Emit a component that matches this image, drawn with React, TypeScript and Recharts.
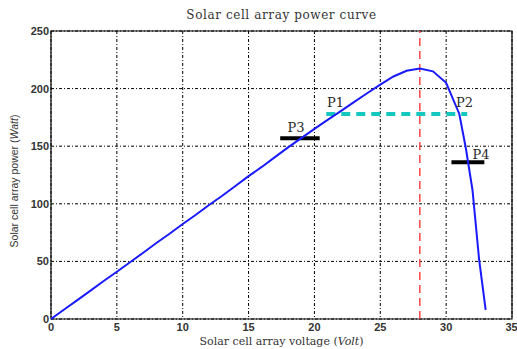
import React from 'react';
import { LineChart, Line, XAxis, YAxis, CartesianGrid, ReferenceLine, ReferenceArea, ReferenceDot } from 'recharts';

const voltage = [0, 1, 2, 3, 4, 5, 6, 7, 8, 9, 10, 11, 12, 13, 14, 15, 16, 17, 18, 19, 20, 21, 22, 23, 24, 25, 26, 27, 28, 29, 30, 31, 31.5, 32, 32.5, 33];
const power = [0, 8.2, 16.4, 24.6, 33, 41, 49.3, 57.5, 66, 74, 82.5, 90.5, 99, 107, 115.5, 124, 132, 140.5, 149, 157, 165, 172.8, 180.5, 188.2, 196, 203.5, 210.5, 215.5, 217.5, 215, 205, 178, 148, 112, 52, 8];

const xTicks = [0, 5, 10, 15, 20, 25, 30, 35];
const yTicks = [0, 50, 100, 150, 200, 250];

const mppVoltage = 28;
const p1p2Level = 178;
const p1p2Range = [20.9, 31.6];
const p3Level = 157;
const p3Range = [17.4, 20.4];
const p4Level = 136;
const p4Range = [30.4, 32.9];

const pointLabels = [
  { name: 'P1', x: 21.6, y: 188 },
  { name: 'P2', x: 31.4, y: 188 },
  { name: 'P3', x: 18.6, y: 166 },
  { name: 'P4', x: 32.65, y: 143 },
];

const data = voltage.map((v, i) => ({ v, p: power[i] }));

const serif = '"DejaVu Serif", "Liberation Serif", serif';
const tickStyle = { fontSize: 11, fill: '#333', fontFamily: 'Liberation Sans', fontWeight: 'bold' };

const App: React.FC = () => {
  return (
    <div style={{ position: 'absolute', left: 0, top: 0, width: 517, height: 349, background: '#fff' }}>
      <div style={{ position: 'absolute', top: 8, left: 51, width: 461, textAlign: 'center', fontFamily: serif, fontSize: 12, letterSpacing: 0.6, color: '#333' }}>
        Solar cell array power curve
      </div>
      <div style={{ position: 'absolute', top: 335, left: 51, width: 461, textAlign: 'center', fontFamily: serif, fontSize: 11, color: '#333' }}>
        Solar cell array voltage (<i>Volt</i>)
      </div>
      <div style={{ position: 'absolute', top: 175, left: -86, width: 200, textAlign: 'center', fontFamily: 'Liberation Sans', fontSize: 10.5, color: '#333', transform: 'rotate(-90deg)' }}>
        Solar cell array power (<i>Watt</i>)
      </div>
      <LineChart width={517} height={349} data={data} margin={{ top: 31, right: 5, bottom: 0, left: 0 }}>
        <CartesianGrid stroke="#000" strokeDasharray="3 2 1 2" />
        <XAxis
          dataKey="v"
          type="number"
          domain={[0, 35]}
          ticks={xTicks}
          height={30}
          tickLine={false}
          axisLine={false}
          tickSize={2}
          tickMargin={2}
          tick={tickStyle}
          allowDataOverflow
        />
        <YAxis
          type="number"
          domain={[0, 250]}
          ticks={yTicks}
          width={51}
          tickLine={false}
          axisLine={false}
          tickSize={2}
          tickMargin={0}
          tick={tickStyle}
        />
        <ReferenceArea x1={0} x2={35} y1={0} y2={250} fill="none" stroke="#000" strokeWidth={1.2} />
        <ReferenceLine x={mppVoltage} stroke="#ff4545" strokeWidth={1.5} strokeDasharray="8 5" />
        <ReferenceLine
          segment={[{ x: p1p2Range[0], y: p1p2Level }, { x: p1p2Range[1], y: p1p2Level }]}
          stroke="#14c8c0"
          strokeWidth={4}
          strokeDasharray="9 6"
        />
        <ReferenceLine segment={[{ x: p3Range[0], y: p3Level }, { x: p3Range[1], y: p3Level }]} stroke="#000" strokeWidth={4} />
        <ReferenceLine segment={[{ x: p4Range[0], y: p4Level }, { x: p4Range[1], y: p4Level }]} stroke="#000" strokeWidth={4} />
        <Line dataKey="p" type="linear" stroke="#1a1aff" strokeWidth={2} dot={false} isAnimationActive={false} />
        {pointLabels.map((l) => (
          <ReferenceDot
            key={l.name}
            x={l.x}
            y={l.y}
            r={0}
            fill="none"
            stroke="none"
            label={{ value: l.name, position: 'center', fontSize: 13, fill: '#2a2a2a', fontFamily: serif }}
          />
        ))}
      </LineChart>
    </div>
  );
};

export default App;
